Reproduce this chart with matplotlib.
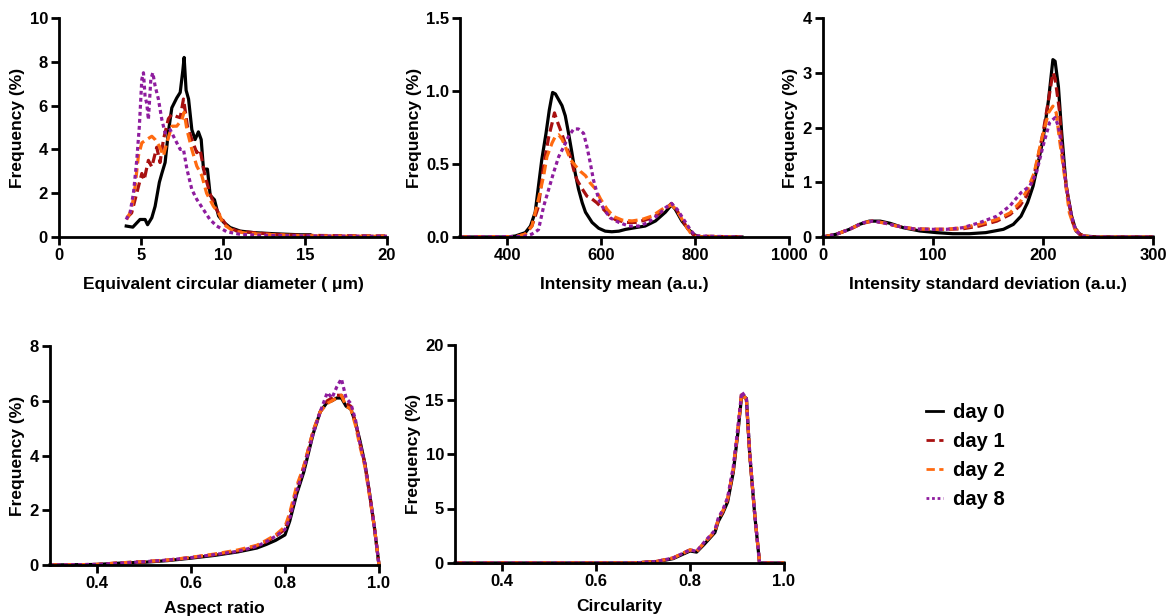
import matplotlib
matplotlib.use("Agg")
import matplotlib.pyplot as plt
from matplotlib.lines import Line2D
import numpy as np

plt.rcParams['font.family'] = ['Liberation Sans', 'DejaVu Sans']
plt.rcParams['font.weight'] = 'bold'

labels = ["day 0", "day 1", "day 2", "day 8"]
colors = ["#000000", "#A81010", "#FF6A10", "#8E1C9E"]

# ---- Panel 1: Equivalent circular diameter ----
ecd_x0 = [4.1, 4.5, 4.94, 5.25, 5.4, 5.66, 5.86, 6.12, 6.27, 6.47, 6.67, 6.88, 7.18, 7.39, 7.55, 7.63, 7.75, 7.9, 8.1, 8.3, 8.5, 8.67, 8.81, 9.05, 9.22, 9.48, 9.73, 10.03, 10.44, 11.05, 11.86, 13.1, 14.7, 15.3]
ecd_y0 = [0.5, 0.45, 0.8, 0.8, 0.56, 0.88, 1.4, 2.5, 2.9, 3.4, 4.8, 5.9, 6.35, 6.6, 7.6, 8.2, 6.7, 6.3, 4.9, 4.45, 4.8, 4.45, 3.1, 3.1, 1.9, 1.7, 0.96, 0.68, 0.43, 0.27, 0.2, 0.15, 0.1, 0.1]
ecd_x1 = [4.13, 4.43, 4.74, 5.05, 5.19, 5.45, 5.66, 5.96, 6.16, 6.37, 6.67, 6.88, 7.18, 7.39, 7.59, 7.69, 7.83, 8.1, 8.4, 8.6, 8.9, 9.2, 9.5, 9.83, 10.23, 10.84, 11.86, 13.1, 14.7, 17.0, 20.0]
ecd_y1 = [0.88, 1.1, 2.0, 2.9, 2.6, 3.5, 3.2, 4.1, 3.4, 4.45, 5.4, 5.6, 5.5, 5.45, 6.3, 5.8, 5.06, 4.45, 3.85, 4.0, 2.8, 2.0, 1.4, 0.96, 0.5, 0.27, 0.2, 0.12, 0.08, 0.06, 0.05]
ecd_x2 = [4.13, 4.43, 4.64, 4.84, 5.05, 5.35, 5.66, 5.86, 6.12, 6.37, 6.57, 6.88, 7.18, 7.49, 7.63, 7.8, 8.1, 8.4, 8.71, 9.0, 9.42, 9.73, 10.03, 10.64, 11.45, 12.7, 14.7, 17.0, 20.0]
ecd_y2 = [0.8, 1.26, 2.3, 3.7, 4.3, 4.45, 4.6, 4.45, 4.15, 3.7, 4.3, 5.06, 5.06, 5.36, 5.7, 4.9, 4.0, 3.24, 2.8, 2.0, 1.4, 1.1, 0.58, 0.27, 0.17, 0.12, 0.06, 0.04, 0.03]
ecd_x8 = [4.09, 4.33, 4.54, 4.74, 4.9, 5.05, 5.15, 5.25, 5.35, 5.45, 5.6, 5.72, 5.86, 6.06, 6.27, 6.47, 6.78, 7.08, 7.39, 7.59, 7.8, 8.1, 8.4, 8.8, 9.2, 9.62, 10.23, 11.05, 12.27, 15.0, 20.0]
ecd_y8 = [0.8, 1.1, 2.0, 3.5, 5.06, 7.2, 7.5, 6.4, 6.1, 5.36, 7.2, 7.5, 6.9, 6.3, 5.36, 4.75, 4.9, 4.45, 4.0, 4.0, 3.1, 2.17, 1.72, 1.26, 0.8, 0.5, 0.24, 0.12, 0.08, 0.05, 0.03]

# ---- Panel 2: Intensity mean ----
im_x0 = [300, 400, 418, 439, 450, 460, 467, 474, 483, 490, 494, 497, 503, 510, 517, 524, 531, 538, 545, 552, 560, 567, 581, 595, 609, 623, 638, 652, 673, 694, 716, 737, 750, 758, 772, 787, 797, 808, 900]
im_y0 = [0, 0, 0.007, 0.03, 0.075, 0.17, 0.35, 0.53, 0.71, 0.87, 0.94, 0.99, 0.98, 0.94, 0.9, 0.83, 0.71, 0.58, 0.44, 0.33, 0.235, 0.17, 0.1, 0.06, 0.04, 0.036, 0.04, 0.052, 0.064, 0.075, 0.11, 0.17, 0.22, 0.19, 0.11, 0.05, 0.018, 0.002, 0]
im_x1 = [300, 420, 439, 453, 467, 478, 489, 496, 501, 506, 513, 524, 535, 542, 549, 560, 570, 581, 591, 602, 616, 630, 652, 673, 694, 716, 737, 750, 762, 776, 790, 801, 900]
im_y1 = [0, 0.003, 0.02, 0.075, 0.21, 0.49, 0.69, 0.78, 0.85, 0.8, 0.74, 0.64, 0.55, 0.46, 0.39, 0.33, 0.28, 0.26, 0.235, 0.2, 0.155, 0.12, 0.1, 0.1, 0.116, 0.144, 0.19, 0.23, 0.18, 0.1, 0.03, 0.007, 0]
im_x2 = [300, 420, 439, 453, 467, 478, 485, 496, 503, 510, 517, 524, 535, 545, 556, 567, 577, 588, 599, 613, 627, 645, 666, 687, 709, 730, 750, 762, 776, 790, 801, 900]
im_y2 = [0, 0.003, 0.02, 0.075, 0.26, 0.42, 0.55, 0.645, 0.69, 0.7, 0.67, 0.62, 0.53, 0.49, 0.45, 0.42, 0.37, 0.33, 0.26, 0.19, 0.14, 0.116, 0.11, 0.12, 0.144, 0.19, 0.22, 0.18, 0.1, 0.03, 0.002, 0]
im_x8 = [300, 435, 453, 467, 478, 489, 499, 510, 521, 531, 542, 552, 563, 570, 577, 584, 595, 606, 620, 638, 659, 680, 701, 723, 737, 750, 762, 776, 790, 801, 900]
im_y8 = [0, 0.003, 0.02, 0.05, 0.21, 0.33, 0.44, 0.55, 0.62, 0.69, 0.74, 0.74, 0.71, 0.62, 0.51, 0.39, 0.26, 0.19, 0.13, 0.1, 0.075, 0.075, 0.1, 0.155, 0.2, 0.23, 0.19, 0.12, 0.05, 0.007, 0]

# ---- Panel 3: Intensity standard deviation ----
sd_x0 = [0, 12, 24, 33, 42, 52, 61, 73, 88, 103, 118, 133, 148, 164, 173, 180, 186, 191, 195, 200, 205, 209, 211, 214, 217, 221, 226, 230, 236, 250, 300]
sd_y0 = [0, 0.05, 0.14, 0.23, 0.29, 0.29, 0.25, 0.17, 0.11, 0.08, 0.06, 0.06, 0.08, 0.14, 0.23, 0.38, 0.63, 0.93, 1.3, 1.78, 2.5, 3.24, 3.21, 2.75, 1.9, 0.93, 0.38, 0.11, 0.02, 0, 0]
sd_x1 = [0, 12, 24, 36, 45, 55, 67, 82, 97, 112, 127, 142, 158, 170, 179, 185, 191, 195, 200, 205, 209, 211, 215, 218, 223, 227, 233, 242, 300]
sd_y1 = [0, 0.05, 0.14, 0.25, 0.29, 0.26, 0.2, 0.15, 0.14, 0.14, 0.15, 0.2, 0.29, 0.41, 0.57, 0.75, 1.05, 1.42, 1.9, 2.5, 3.0, 2.9, 2.3, 1.4, 0.69, 0.26, 0.05, 0, 0]
sd_x2 = [0, 12, 24, 36, 45, 55, 67, 82, 97, 112, 127, 142, 158, 170, 179, 186, 192, 198, 205, 209, 212, 215, 220, 224, 229, 235, 245, 300]
sd_y2 = [0, 0.05, 0.14, 0.26, 0.29, 0.26, 0.2, 0.15, 0.14, 0.14, 0.17, 0.23, 0.32, 0.44, 0.63, 0.87, 1.17, 1.72, 2.27, 2.39, 2.27, 1.78, 1.05, 0.44, 0.14, 0.03, 0, 0]
sd_x8 = [0, 12, 24, 36, 45, 55, 67, 82, 97, 112, 127, 142, 158, 170, 180, 188, 194, 200, 206, 211, 214, 217, 221, 226, 230, 236, 245, 300]
sd_y8 = [0, 0.05, 0.14, 0.26, 0.29, 0.26, 0.2, 0.15, 0.14, 0.14, 0.17, 0.26, 0.38, 0.57, 0.81, 0.93, 1.17, 1.66, 2.09, 2.18, 2.02, 1.66, 0.93, 0.38, 0.11, 0.02, 0, 0]

# ---- Panel 4: Aspect ratio ----
ar_x = [0.30, 0.40, 0.45, 0.50, 0.55, 0.60, 0.65, 0.70, 0.74, 0.76, 0.78, 0.80, 0.81, 0.825, 0.84, 0.86, 0.875, 0.89, 0.90, 0.91, 0.92, 0.93, 0.94, 0.95, 0.96, 0.97, 0.98, 0.99, 1.00]
ar_y0 = [0, 0.02, 0.07, 0.1, 0.16, 0.25, 0.35, 0.48, 0.62, 0.75, 0.9, 1.1, 1.6, 2.6, 3.4, 4.8, 5.6, 5.95, 6.0, 6.1, 6.1, 5.8, 5.7, 5.2, 4.5, 3.7, 2.6, 1.4, 0]
ar_y1 = [0, 0.02, 0.08, 0.12, 0.18, 0.27, 0.38, 0.52, 0.7, 0.85, 1.05, 1.3, 1.8, 2.8, 3.6, 4.9, 5.6, 6.0, 6.1, 6.2, 6.2, 5.9, 5.8, 5.2, 4.4, 3.7, 2.6, 1.4, 0]
ar_y2 = [0, 0.02, 0.08, 0.12, 0.18, 0.28, 0.4, 0.55, 0.72, 0.9, 1.1, 1.4, 1.9, 2.9, 3.6, 4.9, 5.6, 5.9, 6.0, 6.1, 6.2, 5.8, 5.7, 5.1, 4.3, 3.6, 2.5, 1.4, 0]
ar_y8 = [0, 0.02, 0.07, 0.12, 0.18, 0.27, 0.38, 0.5, 0.68, 0.85, 1.05, 1.3, 1.7, 2.7, 3.5, 4.8, 5.6, 6.3, 6.1, 6.5, 6.8, 6.1, 5.9, 5.3, 4.4, 3.7, 2.6, 1.4, 0]

# ---- Panel 5: Circularity ----
ci_x = [0.30, 0.68, 0.73, 0.764, 0.80, 0.814, 0.83, 0.853, 0.86, 0.87, 0.88, 0.892, 0.902, 0.91, 0.92, 0.927, 0.938, 0.948, 1.00]
ci_y0 = [0, 0, 0.12, 0.4, 1.1, 1.0, 1.7, 2.8, 3.8, 4.6, 5.6, 8.3, 12.0, 15.4, 15.1, 10.0, 4.3, 0, 0]
ci_y1 = [0, 0, 0.15, 0.46, 1.2, 1.07, 1.83, 2.9, 3.97, 4.7, 5.8, 8.5, 12.2, 15.6, 15.0, 10.0, 4.3, 0, 0]
ci_y2 = [0, 0, 0.15, 0.46, 1.2, 1.07, 1.83, 2.9, 4.0, 4.8, 5.9, 8.6, 12.3, 15.6, 15.0, 10.0, 4.3, 0, 0]
ci_y8 = [0, 0, 0.15, 0.46, 1.2, 1.07, 1.9, 3.0, 4.1, 4.9, 6.0, 8.8, 12.5, 15.7, 15.1, 10.2, 4.4, 0, 0]

styles = [dict(ls='-'), dict(ls=(0, (3, 1.5))), dict(ls=(0, (3, 1.5))), dict(ls=(0, (1.2, 1.0)))]
legend_styles = [dict(ls='-'), dict(ls=(0, (3, 1.6))), dict(ls=(0, (3, 1.6))), dict(ls=(0, (1.0, 1.0)))]

W, H = 1171, 616
fig = plt.figure(figsize=(W / 100, H / 100), dpi=100)

def add_ax(x0, x1, ytop, ybot):
    return fig.add_axes([x0 / W, (H - ybot) / H, (x1 - x0) / W, (ybot - ytop) / H])

panels = [
    (add_ax(59, 387, 18, 237), [(ecd_x0, ecd_y0), (ecd_x1, ecd_y1), (ecd_x2, ecd_y2), (ecd_x8, ecd_y8)],
     (0, 20), [0, 5, 10, 15, 20], None, (0, 10), [0, 2, 4, 6, 8, 10], None,
     "Equivalent circular diameter ( \u03bcm)"),
    (add_ax(460, 789, 18, 237), [(im_x0, im_y0), (im_x1, im_y1), (im_x2, im_y2), (im_x8, im_y8)],
     (300, 1000), [400, 600, 800, 1000], None, (0, 1.5), [0, 0.5, 1.0, 1.5], ["0.0", "0.5", "1.0", "1.5"],
     "Intensity mean (a.u.)"),
    (add_ax(823, 1153, 18, 237), [(sd_x0, sd_y0), (sd_x1, sd_y1), (sd_x2, sd_y2), (sd_x8, sd_y8)],
     (0, 300), [0, 100, 200, 300], None, (0, 4), [0, 1, 2, 3, 4], None,
     "Intensity standard deviation (a.u.)"),
    (add_ax(50, 379, 346, 565), [(ar_x, ar_y0), (ar_x, ar_y1), (ar_x, ar_y2), (ar_x, ar_y8)],
     (0.3, 1.0), [0.4, 0.6, 0.8, 1.0], ["0.4", "0.6", "0.8", "1.0"], (0, 8), [0, 2, 4, 6, 8], None,
     "Aspect ratio"),
    (add_ax(455, 784, 345, 563), [(ci_x, ci_y0), (ci_x, ci_y1), (ci_x, ci_y2), (ci_x, ci_y8)],
     (0.3, 1.0), [0.4, 0.6, 0.8, 1.0], ["0.4", "0.6", "0.8", "1.0"], (0, 20), [0, 5, 10, 15, 20], None,
     "Circularity"),
]

for i, (ax, series, xlim, xt, xtl, ylim, yt, ytl, xlabel) in enumerate(panels):
    for (x, y), c, st, lab in zip(series, colors, styles, labels):
        ax.plot(x, y, color=c, lw=2.3, label=lab, clip_on=False, **st)
    ax.set_xlim(*xlim)
    ax.set_ylim(*ylim)
    ax.set_xticks(xt)
    if xtl:
        ax.set_xticklabels(xtl)
    ax.set_yticks(yt)
    if ytl:
        ax.set_yticklabels(ytl)
    for s in ['top', 'right']:
        ax.spines[s].set_visible(False)
    for s in ['left', 'bottom']:
        ax.spines[s].set_linewidth(2.0)
    ax.tick_params(direction='out', length=6, width=2, labelsize=12, pad=2)
    for t in ax.get_xticklabels() + ax.get_yticklabels():
        t.set_fontweight('bold')
    lp = 10 if i < 3 else 7
    ax.set_xlabel(xlabel, fontsize=12.5, fontweight='bold', labelpad=lp)
    ax.set_ylabel("Frequency (%)", fontsize=12.5, fontweight='bold', labelpad=3)

legend_handles = [Line2D([], [], color=c, lw=2.0, **st) for c, st in zip(colors, legend_styles)]
fig.legend(legend_handles, labels, loc='upper left', bbox_to_anchor=(922 / W, 1 - 399 / H),
           frameon=False, prop={'weight': 'bold', 'size': 14.5}, handlelength=0.85,
           handletextpad=0.5, labelspacing=0.5, borderaxespad=0, borderpad=0.2)

fig.savefig("out.png", dpi=100)
